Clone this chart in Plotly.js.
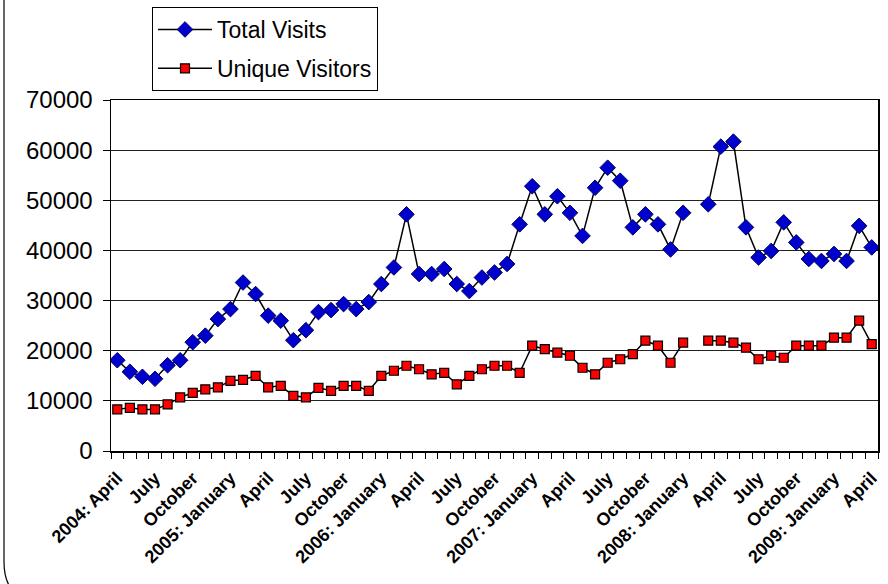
<!DOCTYPE html>
<html>
<head>
<meta charset="utf-8">
<script src="https://cdn.plot.ly/plotly-3.0.1.min.js"></script>
<style>
html,body{margin:0;padding:0;background:#fff;}
#chart{width:888px;height:584px;}
</style>
</head>
<body>
<div id="chart"></div>
<script>
var months = [
 "2004-04","2004-05","2004-06","2004-07","2004-08","2004-09","2004-10","2004-11","2004-12",
 "2005-01","2005-02","2005-03","2005-04","2005-05","2005-06","2005-07","2005-08","2005-09","2005-10","2005-11","2005-12",
 "2006-01","2006-02","2006-03","2006-04","2006-05","2006-06","2006-07","2006-08","2006-09","2006-10","2006-11","2006-12",
 "2007-01","2007-02","2007-03","2007-04","2007-05","2007-06","2007-07","2007-08","2007-09","2007-10","2007-11","2007-12",
 "2008-01","2008-02","2008-03","2008-04","2008-05","2008-06","2008-07","2008-08","2008-09","2008-10","2008-11","2008-12",
 "2009-01","2009-02","2009-03","2009-04"
];
var tickLabels = [
 "2004: April","","","July","","","October","","",
 "2005: January","","","April","","","July","","","October","","",
 "2006: January","","","April","","","July","","","October","","",
 "2007: January","","","April","","","July","","","October","","",
 "2008: January","","","April","","","July","","","October","","",
 "2009: January","","","April"
];
var totalVisits = [
 18100,15800,14800,14400,17100,18100,21700,23000,26300,
 28300,33600,31300,27000,26000,22100,24100,27700,28100,29300,28300,29700,
 33300,36600,47200,35300,35300,36300,33300,31900,34600,35600,37300,45200,
 52800,47200,50800,47500,42900,52500,56500,53900,44600,47200,45200,40200,
 47500,null,49200,60700,61700,44600,38600,39900,45600,41600,38300,37900,
 39300,37900,44900,40600
];
var uniqueVisitors = [
 8300,8600,8300,8300,9300,10700,11600,12300,12700,
 14000,14200,15000,12700,13000,11000,10700,12600,12000,13000,13000,12000,
 15000,16000,17000,16300,15300,15600,13300,15000,16300,17000,17000,15600,
 21000,20300,19600,19000,16600,15300,17600,18300,19300,22000,21000,17600,
 21600,null,22000,22000,21600,20600,18300,19000,18600,21000,21000,21000,
 22600,22600,26000,21300
];
var seriesNames = ["Total Visits","Unique Visitors"];

var FONT = "Liberation Sans, Arial, sans-serif";

var traces = [
 {
  x: months, y: totalVisits, name: seriesNames[0], type: "scatter", mode: "lines+markers",
  legendgroup: "a",
  line: {color: "#000000", width: 1.5},
  marker: {symbol: "diamond", size: 12, color: "#0000CC", line: {color: "#000066", width: 1}},
  connectgaps: false
 },
 {
  x: months, y: uniqueVisitors, name: seriesNames[1], type: "scatter", mode: "lines+markers",
  legendgroup: "b",
  line: {color: "#000000", width: 1.5},
  marker: {symbol: "square", size: 9, color: "#FF0000", line: {color: "#000000", width: 1.2}},
  connectgaps: false
 }
];

function px(x){ return (x - 111) / 767; }
function py(y){ return (451 - y) / 351; }

var borderPath = "M " + px(4) + "," + py(-5) +
  " L " + px(4) + "," + py(562) +
  " Q " + px(4) + "," + py(602) + " " + px(44) + "," + py(602) +
  " L " + px(900) + "," + py(602);

var layout = {
  width: 888, height: 584,
  margin: {l: 111, r: 10, t: 100, b: 133, autoexpand: false},
  paper_bgcolor: "#ffffff", plot_bgcolor: "#ffffff",
  font: {family: FONT, color: "#000000"},
  showlegend: true,
  legend: {
    x: px(152), y: py(7), xanchor: "left", yanchor: "top",
    bgcolor: "#ffffff", bordercolor: "#000000", borderwidth: 1,
    font: {family: FONT, size: 23, color: "#000000"},
    traceorder: "grouped", tracegroupgap: 6, itemwidth: 54
  },
  xaxis: {
    type: "category", categoryorder: "array", categoryarray: months,
    tickmode: "array", tickvals: months, ticktext: tickLabels,
    tickson: "boundaries", ticks: "outside", ticklen: 6, tickcolor: "#000000", tickwidth: 1,
    tickangle: -45, ticklabelstandoff: 8,
    tickfont: {family: FONT, size: 18, color: "#000000", weight: "bold"},
    showline: true, linecolor: "#000000", linewidth: 1.5, mirror: true,
    showgrid: false, zeroline: false, automargin: false,
    range: [-0.5, 60.5]
  },
  yaxis: {
    range: [0, 70000], dtick: 10000, tick0: 0,
    ticks: "outside", ticklen: 7, tickcolor: "#000000",
    ticklabelstandoff: 5,
    tickfont: {family: FONT, size: 24, color: "#000000"},
    showline: true, linecolor: "#000000", linewidth: 1.5, mirror: true,
    showgrid: true, gridcolor: "#222222", gridwidth: 1,
    zeroline: false, automargin: false,
    tickformat: "d"
  },
  shapes: [
    {type: "path", xref: "paper", yref: "paper", path: borderPath,
     line: {color: "#000000", width: 1.2}, layer: "above"}
  ]
};

Plotly.newPlot("chart", traces, layout, {staticPlot: true, displayModeBar: false});
</script>
</body>
</html>
